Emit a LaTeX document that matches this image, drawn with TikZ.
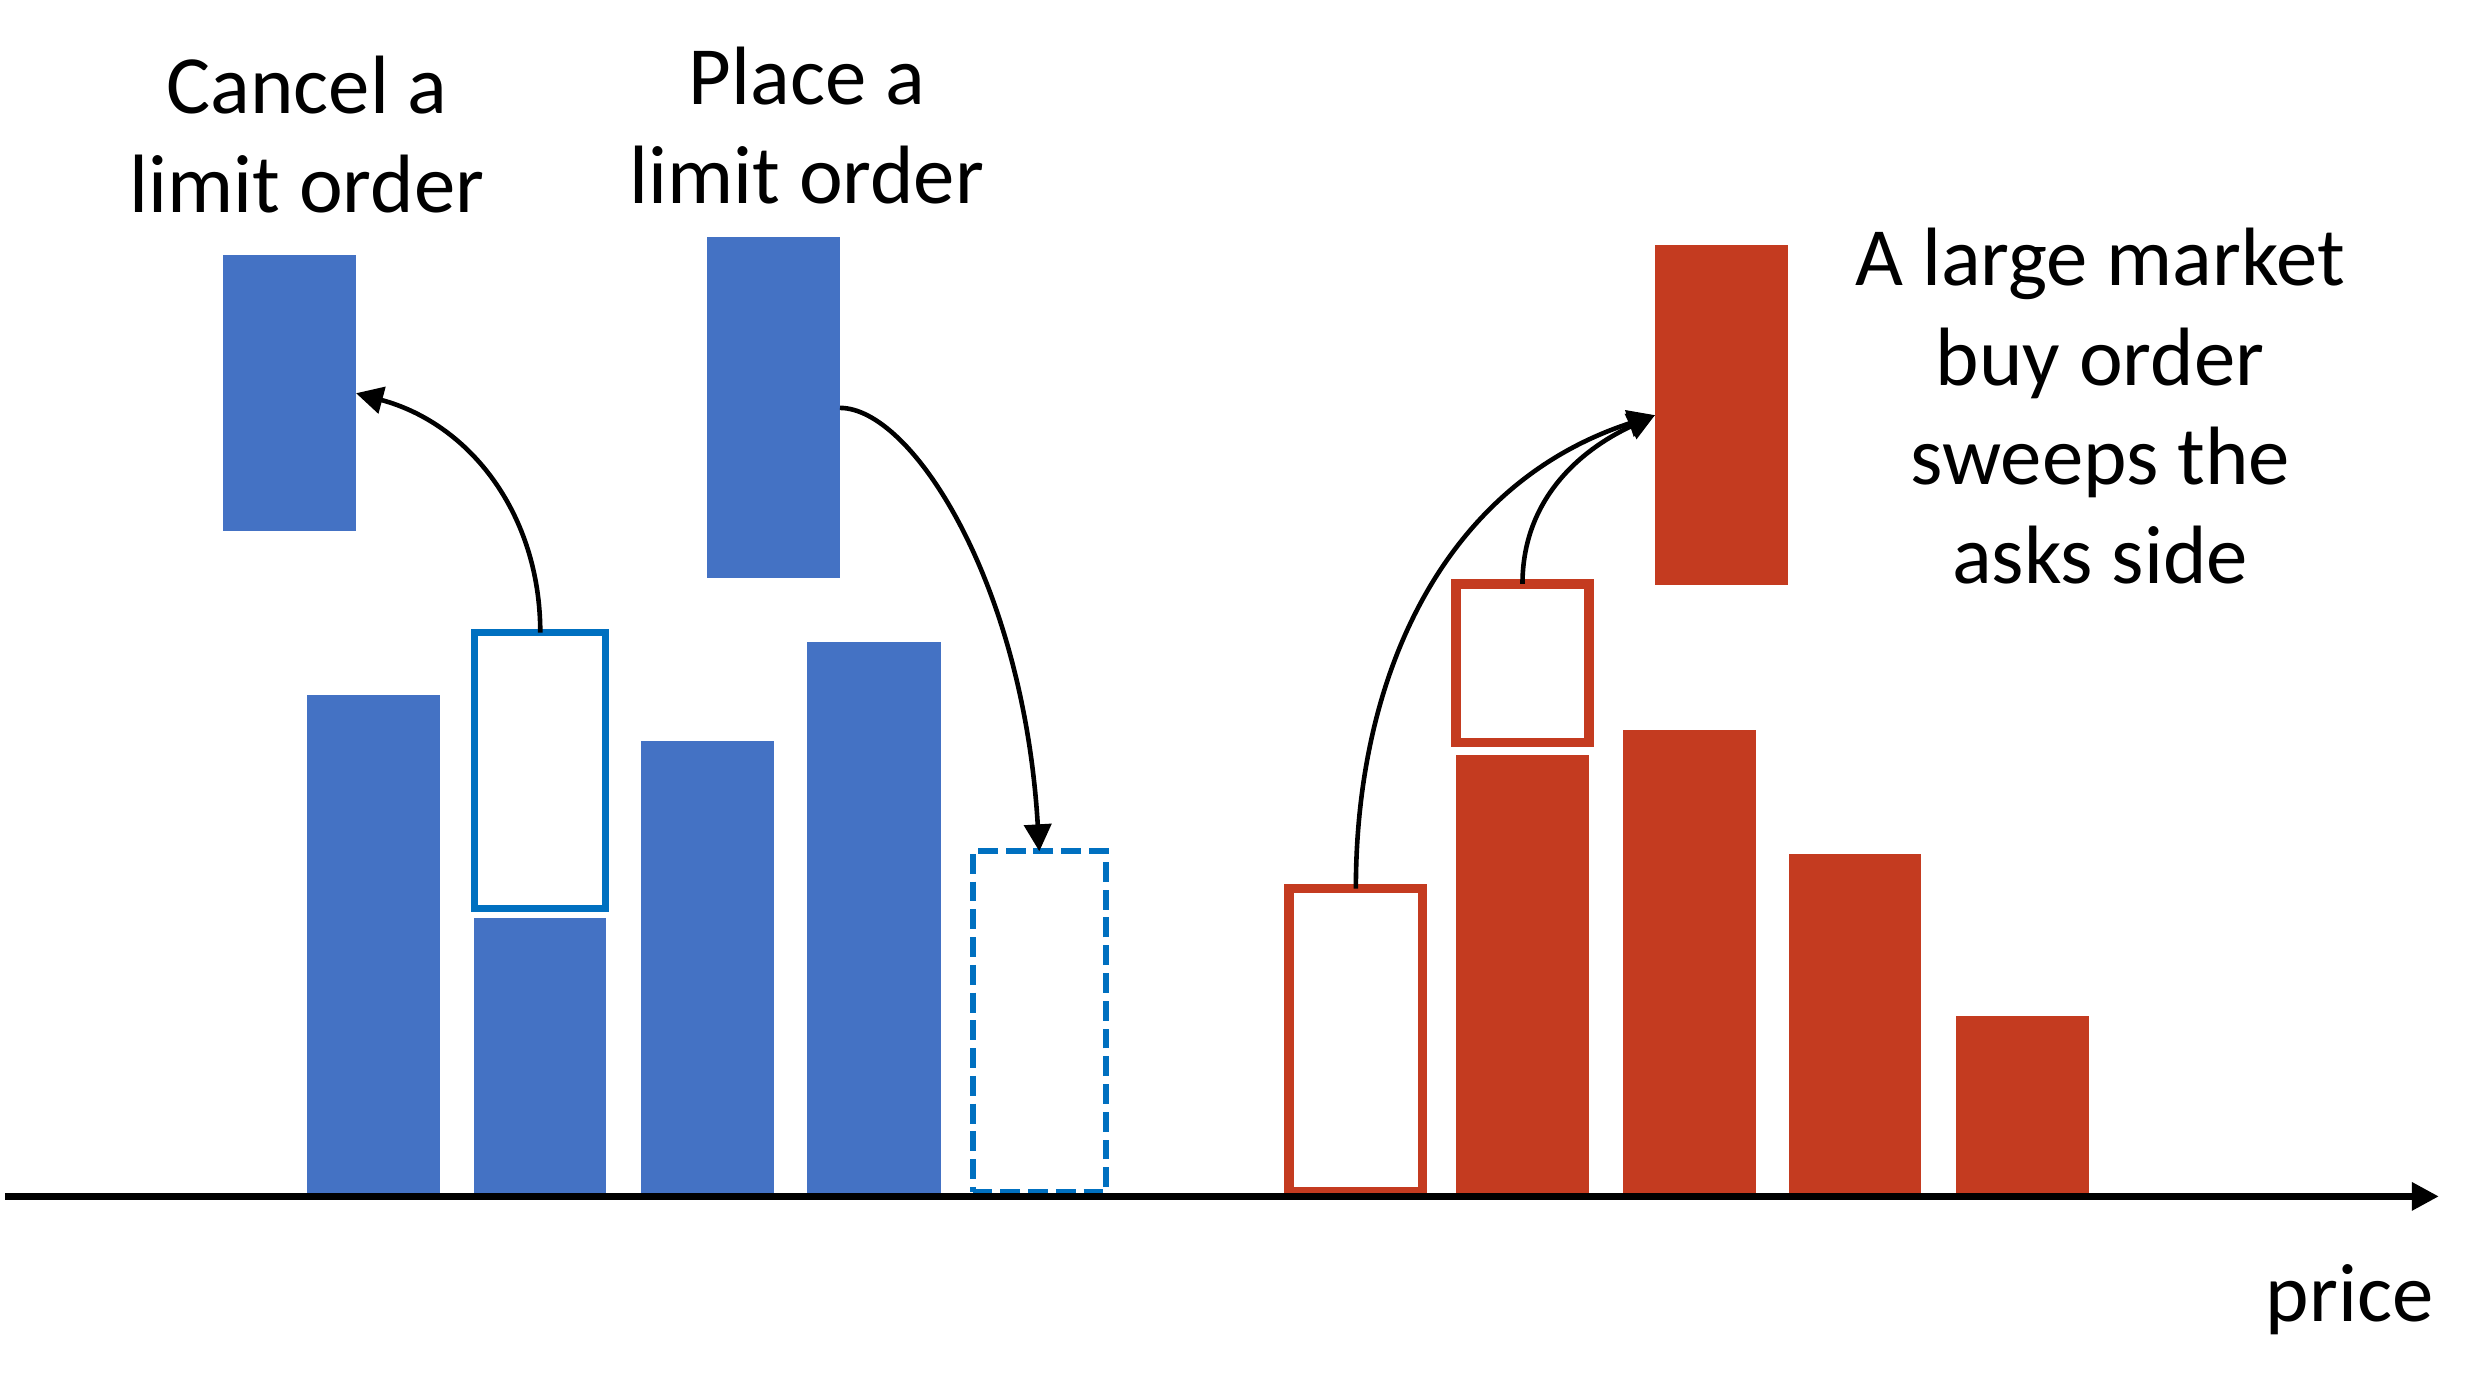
\documentclass[tikz,border=0pt]{standalone}
\usepackage{fontspec}
\setmainfont{Carlito}
\usetikzlibrary{arrows.meta}
\definecolor{barblue}{HTML}{4472C4}
\definecolor{lineblue}{HTML}{0070C0}
\definecolor{barred}{HTML}{C43B20}
\begin{document}
\begin{tikzpicture}[x=0.02cm,y=0.02cm,
  bluebar/.style={fill=barblue, draw=none, inner sep=0pt, outer sep=0pt, anchor=south west},
  redbar/.style={fill=barred, draw=none, inner sep=0pt, outer sep=0pt, anchor=south west},
  blueout/.style={draw=lineblue, line width=0.09cm, inner sep=0pt, outer sep=0pt},
  redout/.style={draw=barred, line width=0.12cm, inner sep=0pt, outer sep=0pt},
  bluedash/.style={draw=lineblue, line width=0.076cm, dash pattern=on 0.25cm off 0.1cm, inner sep=0pt, outer sep=0pt},
  conn/.style={line width=0.058cm, -{Triangle[length=0.34cm,width=0.34cm]}},
  axisline/.style={line width=0.08cm, -{Triangle[length=0.34cm,width=0.34cm]}},
  lbl/.style={font=\fontsize{29.7}{35.6}\selectfont, align=center, inner sep=0pt}]
\useasboundingbox (0,0) rectangle (1568,-878);
% top blocks
\node[bluebar, minimum width=1.676cm, minimum height=3.484cm] (ct) at (140.6,-334.9) {};
\node[bluebar, minimum width=1.676cm, minimum height=4.298cm] (pt) at (445.6,-364.5) {};
\node[redbar, minimum width=1.68cm, minimum height=4.284cm] (rt) at (1043,-368.7) {};
% bid bars
\node[bluebar, minimum width=1.672cm, minimum height=6.30cm] (b1) at (193.7,-753) {};
\node[bluebar, minimum width=1.672cm, minimum height=3.484cm] (b2) at (298.6,-753) {};
\node[bluebar, minimum width=1.672cm, minimum height=5.72cm] (b3) at (403.9,-753) {};
\node[bluebar, minimum width=1.68cm, minimum height=6.968cm] (b4) at (508.8,-753) {};
\node[blueout, minimum width=1.65cm, minimum height=3.474cm] (b2o) at (340.5,-485.5) {};
\node[bluedash, minimum width=1.684cm, minimum height=4.30cm] (bd) at (655,-644) {};
% ask bars
\node[redbar, minimum width=1.676cm, minimum height=5.54cm] (r2) at (917.7,-753) {};
\node[redbar, minimum width=1.676cm, minimum height=5.866cm] (r3) at (1023,-753) {};
\node[redbar, minimum width=1.672cm, minimum height=4.30cm] (r4) at (1127.2,-753) {};
\node[redbar, minimum width=1.67cm, minimum height=2.26cm] (r5) at (1233,-753) {};
\node[redout, minimum width=1.68cm, minimum height=3.82cm] (r1o) at (854.5,-655.5) {};
\node[redout, minimum width=1.68cm, minimum height=2.0cm] (r2o) at (959.5,-418) {};
% axis
\coordinate (a0) at (3,-754);
\coordinate (a1) at (1537,-754);
\draw[axisline] (a0) -- (a1);
% labels
\node[lbl] (lc) at (193.5,-85) {Cancel a\\limit order};
\node[lbl] (lp) at (508.5,-79) {Place a\\limit order};
\node[lbl] (la) at (1323.5,-256) {A large market\\buy order\\sweeps the\\asks side};
\node[lbl, anchor=base east] (lpr) at (1534,-833) {price};
% connectors
\draw[conn] (b2o.north) to[out=90,in=-15] (ct.east);
\draw[conn] (pt.east) .. controls +(45,0) and +(-10,170) .. (bd.north);
\draw[conn] (r1o.north) to[out=90,in=198] (rt.west);
\draw[conn] (r2o.north) to[out=90,in=205] (rt.west);
\end{tikzpicture}
\end{document}
